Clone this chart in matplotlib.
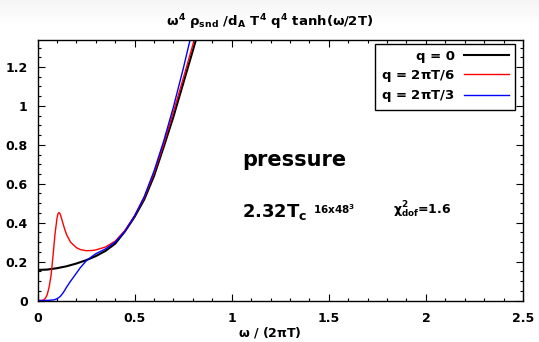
import numpy as np
import matplotlib
matplotlib.use("Agg")
import matplotlib.pyplot as plt
from matplotlib.ticker import MultipleLocator

plt.rcParams['font.family'] = ['DejaVu Sans']
plt.rcParams['font.weight'] = 'bold'
plt.rcParams['mathtext.fontset'] = 'custom'
plt.rcParams['mathtext.rm'] = 'DejaVu Sans:bold'
plt.rcParams['mathtext.bf'] = 'DejaVu Sans:bold'
plt.rcParams['mathtext.it'] = 'DejaVu Sans:bold'
plt.rcParams['mathtext.sf'] = 'DejaVu Sans:bold'

# q = 0
x_q0 = [0, 0.05, 0.1, 0.15, 0.2, 0.25, 0.3, 0.35, 0.4, 0.45, 0.5, 0.55, 0.6,
        0.65, 0.7, 0.75, 0.8, 0.85]
y_q0 = [0.157, 0.159, 0.166, 0.176, 0.19, 0.207, 0.228, 0.255, 0.292, 0.355,
        0.43, 0.52, 0.64, 0.79, 0.945, 1.115, 1.285, 1.46]

# q = 2piT/6
x_q6 = [0, 0.02, 0.03, 0.04, 0.05, 0.06, 0.07, 0.08, 0.09, 0.1, 0.105, 0.11,
        0.115, 0.12, 0.13, 0.14, 0.15, 0.17, 0.2, 0.22, 0.25, 0.28, 0.3, 0.35,
        0.4, 0.45, 0.5, 0.55, 0.6, 0.65, 0.7, 0.75, 0.8, 0.85]
y_q6 = [0, 0, 0.002, 0.01, 0.03, 0.07, 0.13, 0.23, 0.34, 0.42, 0.445, 0.452,
        0.448, 0.435, 0.40, 0.367, 0.338, 0.30, 0.272, 0.262, 0.256, 0.257,
        0.26, 0.275, 0.305, 0.36, 0.435, 0.53, 0.655, 0.805, 0.97, 1.14,
        1.315, 1.49]

# q = 2piT/3
x_q3 = [0, 0.04, 0.06, 0.08, 0.09, 0.1, 0.11, 0.12, 0.13, 0.14, 0.15, 0.17,
        0.2, 0.22, 0.25, 0.28, 0.3, 0.35, 0.4, 0.45, 0.5, 0.55, 0.6, 0.65,
        0.7, 0.75, 0.8]
y_q3 = [0, 0, 0.001, 0.003, 0.005, 0.009, 0.015, 0.024, 0.037, 0.052, 0.069,
        0.099, 0.14, 0.168, 0.203, 0.226, 0.24, 0.265, 0.30, 0.355, 0.435,
        0.535, 0.665, 0.82, 0.995, 1.19, 1.40]

labels = ['q = 0', r'q = 2$\pi$T/6', r'q = 2$\pi$T/3']
colors = ['black', '#ff0000', '#0000ff']

W, H = 539, 342
fig = plt.figure(figsize=(W / 100, H / 100), dpi=100)

# light gray slide band at the top
bg = fig.add_axes([0, 0.93, 1, 0.07], zorder=-10)
grad = np.linspace(1, 0, 50).reshape(-1, 1)
bg.imshow(grad, aspect='auto', cmap='Greys', vmin=0, vmax=12, extent=[0, 1, 0, 1])
bg.axis('off')

x0, x1, ytop, ybot = 37.5, 523, 40, 300.5
ax = fig.add_axes([x0 / W, (H - ybot) / H, (x1 - x0) / W, (ybot - ytop) / H])
ax.plot(x_q0, y_q0, color=colors[0], lw=1.5, label=labels[0])
ax.plot(x_q6, y_q6, color=colors[1], lw=1.0, label=labels[1])
ax.plot(x_q3, y_q3, color=colors[2], lw=1.0, label=labels[2])

ax.set_xlim(0, 2.5)
ax.set_ylim(0, 1.339)
ax.xaxis.set_minor_locator(MultipleLocator(0.1))
ax.yaxis.set_minor_locator(MultipleLocator(0.05))
ax.set_xticks([0, 0.5, 1, 1.5, 2, 2.5])
ax.set_xticklabels(['0', '0.5', '1', '1.5', '2', '2.5'])
ax.set_yticks([0, 0.2, 0.4, 0.6, 0.8, 1.0, 1.2])
ax.set_yticklabels(['0', '0.2', '0.4', '0.6', '0.8', '1', '1.2'])
ax.tick_params(which='both', direction='in', top=True, right=True,
               labelsize=9, width=0.8)
ax.tick_params(which='major', length=5)
ax.tick_params(which='minor', length=2.5)
ax.tick_params(axis='x', which='major', pad=8)
ax.tick_params(axis='y', which='major', pad=7)
for lab in ax.get_xticklabels() + ax.get_yticklabels():
    lab.set_fontweight('bold')
for s in ax.spines.values():
    s.set_linewidth(1.0)

fig.text(0.5, 0.027, r'$\omega$ / (2$\pi$T)', ha='center', va='center',
         fontsize=9, fontweight='bold')
fig.text(0.5, 0.936, r'$\omega^4\ \rho_{snd}\ /d_A\ T^4\ q^4\ tanh(\omega/2T)$',
         ha='center', va='center', fontsize=9.5)

leg = ax.legend(loc='upper right', bbox_to_anchor=((515 - x0) / (x1 - x0),
                (ybot - 44) / (ybot - ytop)),
                markerfirst=False, fancybox=False,
                edgecolor='black', framealpha=1, handlelength=3.4,
                handletextpad=0.7, borderaxespad=0.0, labelspacing=0.35,
                borderpad=0.45, prop={'weight': 'bold', 'size': 9.5})
leg.get_frame().set_linewidth(1.0)

ax.text(1.052, 0.692, 'pressure', fontsize=15, fontweight='bold', va='baseline')
ax.text(1.052, 0.431, r'2.32T$_c$', fontsize=13, fontweight='bold', va='baseline')
ax.text(1.42, 0.445, r'16x48$^3$', fontsize=7.5, fontweight='bold', va='baseline')
ax.text(1.83, 0.445, r'$\chi^2_{dof}$=1.6', fontsize=9, fontweight='bold', va='baseline')

fig.savefig('out.png', dpi=100)
